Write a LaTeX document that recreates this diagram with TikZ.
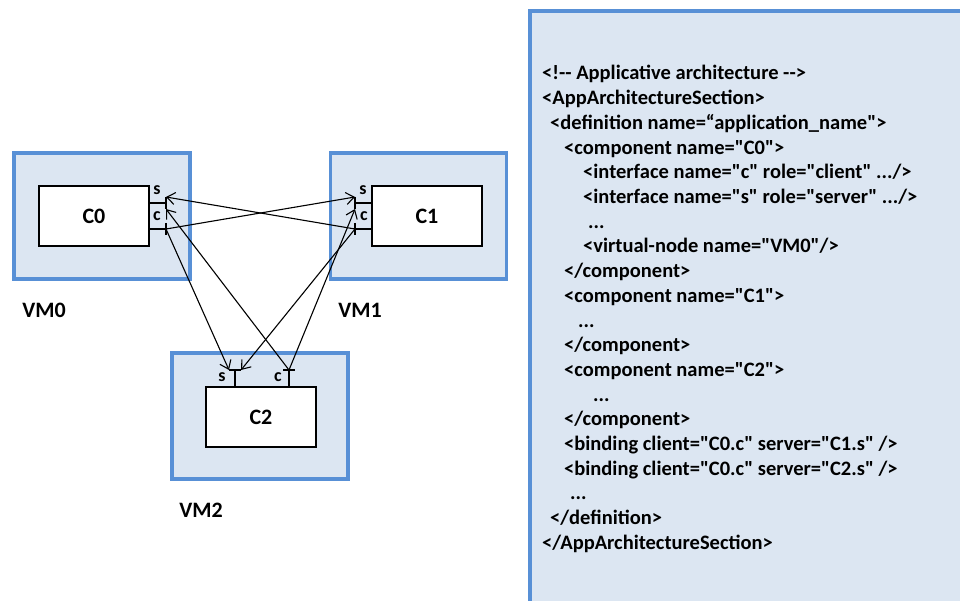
\documentclass[tikz,border=0pt]{standalone}
\usepackage{fontspec}
\newfontfamily\calib{Carlito}
\usetikzlibrary{arrows.meta,calc}
\definecolor{vmfill}{RGB}{220,230,242}
\definecolor{vmline}{RGB}{88,144,214}
\begin{document}
\begin{tikzpicture}[x=1pt,y=-1pt,
  vmbox/.style={draw=vmline, fill=vmfill, line width=3.5pt, minimum width=176pt, minimum height=126pt, inner sep=0pt},
  cbox/.style={draw=black, fill=white, line width=2.2pt, minimum width=110pt, minimum height=60pt, inner sep=0pt, font=\calib\bfseries\fontsize{22}{26}\selectfont},
  vmlabel/.style={inner sep=0pt, font=\calib\bfseries\fontsize{22}{26}\selectfont},
  portlbl/.style={inner sep=0pt, font=\calib\bfseries\fontsize{18}{20}\selectfont},
  port/.style={draw=black, line width=1.1pt},
  bind/.style={draw=black, line width=1.1pt, -{Straight Barb[length=8pt,width=12pt,line width=1.1pt]}},
  code/.style={anchor=base west, inner sep=0pt, font=\calib\bfseries\fontsize{20.5}{24}\selectfont}
]
\useasboundingbox (0,0) rectangle (960,601);
% right panel
\path[draw=vmline, fill=vmfill, line width=3.5pt] (530,11) rectangle (980,620);
% VM boxes
\node[vmbox] (VM0) at (102,216) {};
\node[vmbox] (VM1) at (418.5,216) {};
\node[vmbox] (VM2) at (260,416) {};
\node[vmlabel] (VM0l) at (44,310) {VM0};
\node[vmlabel] (VM1l) at (360,310) {VM1};
\node[vmlabel] (VM2l) at (201,510) {VM2};
% components
\node[cbox] (C0) at (94,216) {C0};
\node[cbox] (C1) at (427,216) {C1};
\node[cbox] (C2) at (261,417) {C2};
% ports
\coordinate (C0s) at (166,203);
\coordinate (C0sa) at (166,197);
\coordinate (C0sb) at (166,209);
\coordinate (C0c) at (166,229);
\coordinate (C1s) at (355,203);
\coordinate (C1sa) at (355,197);
\coordinate (C1sb) at (355,209);
\coordinate (C1c) at (355,229);
\coordinate (C2s) at (235,370);
\coordinate (C2sa) at (229,370);
\coordinate (C2sb) at (241,370);
\coordinate (C2c) at (289,370);
\draw[port] (C0.east |- C0s) -- (C0s) (C0sa) -- (C0sb);
\draw[port] (C0.east |- C0c) -- (C0c) ($(C0c)+(0,-6)$) -- ($(C0c)+(0,6)$);
\draw[port] (C1.west |- C1s) -- (C1s) (C1sa) -- (C1sb);
\draw[port] (C1.west |- C1c) -- (C1c) ($(C1c)+(0,-6)$) -- ($(C1c)+(0,6)$);
\draw[port] (C2.north -| C2s) -- (C2s) (C2sa) -- (C2sb);
\draw[port] (C2.north -| C2c) -- (C2c) ($(C2c)+(-6,0)$) -- ($(C2c)+(6,0)$);
\node[portlbl] (C0sl) at (157,190) {s};
\node[portlbl] (C0cl) at (157,216) {c};
\node[portlbl] (C1sl) at (363,190) {s};
\node[portlbl] (C1cl) at (364,216) {c};
\node[portlbl] (C2sl) at (222,377) {s};
\node[portlbl] (C2cl) at (278,377) {c};
% bindings
\draw[bind] (C1c) -- (C0sa);
\draw[bind] (C2c) -- (C0sb);
\draw[bind] (C0c) -- (C1sa);
\draw[bind] (C2c) -- (C1sb);
\draw[bind] (C0c) -- (C2sa);
\draw[bind] (C1c) -- (C2sb);
% code text
\node[code] (l1) at (542,80) {<!-- Applicative architecture -->};
\node[code] (l2) at (542,104.7) {<AppArchitectureSection>};
\node[code] (l3) at (550,129.4) {<definition name=“application\_name">};
\node[code] (l4) at (564,154.1) {<component name="C0">};
\node[code] (l5) at (583,178.8) {<interface name="c" role="client" .../>};
\node[code] (l6) at (583,203.5) {<interface name="s" role="server" .../>};
\node[code] (l7) at (588,228.2) {...};
\node[code] (l8) at (583,252.9) {<virtual-node name="VM0"/>};
\node[code] (l9) at (564,277.6) {</component>};
\node[code] (l10) at (564,302.3) {<component name="C1">};
\node[code] (l11) at (578,327) {...};
\node[code] (l12) at (564,351.7) {</component>};
\node[code] (l13) at (564,376.4) {<component name="C2">};
\node[code] (l14) at (593,401.1) {...};
\node[code] (l15) at (564,425.8) {</component>};
\node[code] (l16) at (564,450.5) {<binding client="C0.c" server="C1.s" />};
\node[code] (l17) at (564,475.2) {<binding client="C0.c" server="C2.s" />};
\node[code] (l18) at (570,499.9) {...};
\node[code] (l19) at (550,524.6) {</definition>};
\node[code] (l20) at (542,549.3) {</AppArchitectureSection>};
\end{tikzpicture}
\end{document}
